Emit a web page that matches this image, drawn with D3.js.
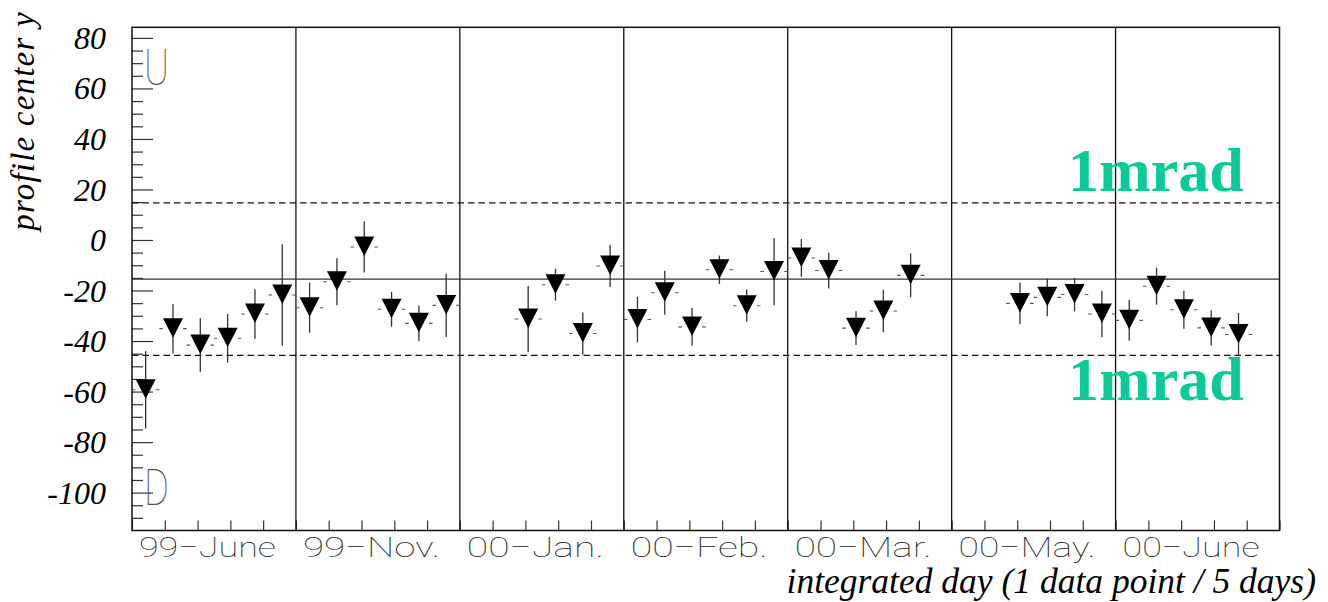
<!DOCTYPE html>
<html>
<head>
<meta charset="utf-8">
<script src="https://cdn.jsdelivr.net/npm/d3@7"></script>
<style>
  html, body { margin: 0; padding: 0; background: #fff; }
  svg { display: block; }
</style>
</head>
<body>
<svg id="chart" width="1328" height="602"></svg>
<script>
// Period labels: one group per period, six 5-day bins per group
const periods = ["99\u2212June", "99\u2212Nov.", "00\u2212Jan.", "00\u2212Feb.", "00\u2212Mar.", "00\u2212May.", "00\u2212June"];
const binsPerPeriod = 6;

// Bin index (0..41) of each measured point
const pointBin = [0, 1, 2, 3, 4, 5,
                  6, 7, 8, 9, 10, 11,
                  14, 15, 16, 17,
                  18, 19, 20, 21, 22, 23,
                  24, 25, 26, 27, 28,
                  32, 33, 34, 35,
                  36, 37, 38, 39, 40];
// Profile centre y of each point
const profileY = [-59.3, -35.1, -41.6, -38.9, -29.3, -21.8,
                  -26.8, -16.5, -2.8, -27.4, -33.0, -25.9,
                  -31.3, -17.7, -37.0, -10.3,
                  -31.5, -20.9, -34.4, -11.8, -26.0, -12.5,
                  -7.1, -12.1, -34.9, -28.1, -14.0,
                  -25.1, -22.7, -21.6, -29.3,
                  -31.8, -18.3, -27.6, -34.8, -37.4];
// Error on each point
const profileErr = [15.3, 9.8, 10.6, 9.6, 9.8, 20.1,
                    9.9, 9.3, 10.1, 6.9, 7.1, 12.5,
                    13.1, 6.3, 8.3, 8.3,
                    9.0, 8.7, 7.5, 5.6, 6.4, 13.3,
                    7.5, 7.1, 6.7, 8.4, 8.7,
                    8.3, 7.5, 6.6, 9.2,
                    8.1, 7.3, 7.5, 7.0, 8.5];

// Reference centre and the +-1 mrad band around it
const nominalCenter = -15.5;
const mradBand = 30.2;

// Axis ticks
const yMajorTicks = [-100, -80, -60, -40, -20, 0, 20, 40, 60, 80];
const yMinorTicks = d3.range(-110, 81, 5).filter(v => v % 20 !== 0);
const xTickStep = 1.2;

const svg = d3.select("#chart");
const plotLeft = 132, plotRight = 1279.5, plotTop = 27.3, plotBottom = 530.5;

const nBins = periods.length * binsPerPeriod;
const x = d3.scaleLinear().domain([0, nBins]).range([plotLeft, plotRight]);
const y = d3.scaleLinear().domain([-115, 84.2]).range([plotBottom, plotTop]);

const serif = "'Liberation Serif', 'Times New Roman', serif";
const thin = "Roboto, 'Open Sans', sans-serif";

// Y axis: inward minor and major ticks
svg.append("g")
  .attr("transform", `translate(${plotLeft},0)`)
  .call(d3.axisLeft(y).tickValues(yMinorTicks).tickSize(-11).tickFormat(""))
  .call(g => g.select(".domain").remove())
  .call(g => g.selectAll("line").attr("stroke", "#333").attr("stroke-width", 1.2));

svg.append("g")
  .attr("transform", `translate(${plotLeft},0)`)
  .call(d3.axisLeft(y).tickValues(yMajorTicks).tickSize(-21).tickPadding(26).tickFormat(d => String(d)))
  .call(g => g.select(".domain").remove())
  .call(g => g.selectAll("line").attr("stroke", "#333").attr("stroke-width", 1.2))
  .call(g => g.selectAll("text")
    .attr("font-family", serif).attr("font-style", "italic")
    .attr("font-size", 32).attr("fill", "#000").attr("dy", "0.33em"));

// X axis: inward ticks
svg.append("g")
  .attr("transform", `translate(0,${plotBottom})`)
  .call(d3.axisBottom(x).tickValues(d3.range(0, nBins + 0.01, xTickStep)).tickSize(-10).tickFormat(""))
  .call(g => g.select(".domain").remove())
  .call(g => g.selectAll("line").attr("stroke", "#333").attr("stroke-width", 1.2));

// Period separators
svg.append("g").selectAll("line")
  .data(d3.range(1, periods.length))
  .join("line")
  .attr("x1", d => x(d * binsPerPeriod)).attr("x2", d => x(d * binsPerPeriod))
  .attr("y1", plotTop).attr("y2", plotBottom)
  .attr("stroke", "#111").attr("stroke-width", 1.3);

// Nominal centre and 1 mrad band
svg.append("line")
  .attr("x1", plotLeft).attr("x2", plotRight)
  .attr("y1", y(nominalCenter)).attr("y2", y(nominalCenter))
  .attr("stroke", "#333").attr("stroke-width", 1.3);
svg.append("g").selectAll("line")
  .data([nominalCenter + mradBand, nominalCenter - mradBand])
  .join("line")
  .attr("x1", plotLeft).attr("x2", plotRight)
  .attr("y1", d => y(d)).attr("y2", d => y(d))
  .attr("stroke", "#111").attr("stroke-width", 1.2)
  .attr("stroke-dasharray", "6.5,4");

// Frame
svg.append("rect")
  .attr("x", plotLeft).attr("y", plotTop)
  .attr("width", plotRight - plotLeft).attr("height", plotBottom - plotTop)
  .attr("fill", "none").attr("stroke", "#111").attr("stroke-width", 1.5);

// U / D markers
svg.append("text").text("U")
  .attr("x", plotLeft + 12).attr("y", y(61.3))
  .attr("font-family", thin).attr("font-weight", 100).attr("font-size", 50)
  .attr("fill", "#555").attr("textLength", 25).attr("lengthAdjust", "spacingAndGlyphs");
svg.append("text").text("D")
  .attr("x", plotLeft + 12).attr("y", y(-104.8))
  .attr("font-family", thin).attr("font-weight", 100).attr("font-size", 50)
  .attr("fill", "#555").attr("textLength", 25).attr("lengthAdjust", "spacingAndGlyphs");

// 1 mrad labels
svg.append("g").selectAll("text")
  .data([nominalCenter + mradBand, nominalCenter - mradBand])
  .join("text")
  .text("1mrad")
  .attr("x", 1068)
  .attr("y", (d, i) => i === 0 ? y(d) - 12 : y(d) + 45)
  .attr("font-family", serif).attr("font-weight", "bold")
  .attr("font-size", 62).attr("fill", "#0ACB97");

// Data points
const points = pointBin.map((b, i) => ({ bin: b, v: profileY[i], e: profileErr[i] }));
const pg = svg.append("g");

// x error bars (bin width), visible only beside the marker
pg.selectAll("line.xerr")
  .data(points).join("line").attr("class", "xerr")
  .attr("x1", d => x(d.bin)).attr("x2", d => x(d.bin + 1))
  .attr("y1", d => y(d.v)).attr("y2", d => y(d.v))
  .attr("stroke", "#555").attr("stroke-width", 1.1)
  .attr("stroke-dasharray", d => {
    const w = x(d.bin + 1) - x(d.bin);
    return `3.5,${w - 7},3.5`;
  });

// y error bars
pg.selectAll("line.yerr")
  .data(points).join("line").attr("class", "yerr")
  .attr("x1", d => x(d.bin + 0.5)).attr("x2", d => x(d.bin + 0.5))
  .attr("y1", d => y(d.v + d.e)).attr("y2", d => y(d.v - d.e))
  .attr("stroke", "#333").attr("stroke-width", 1.3);

// Filled down-pointing triangle markers
pg.selectAll("path.mk")
  .data(points).join("path").attr("class", "mk")
  .attr("transform", d => `translate(${x(d.bin + 0.5)},${y(d.v)})`)
  .attr("d", "M-10,-10.5L10,-10.5L0,9Z")
  .attr("fill", "#000");

// Period labels
svg.append("g").selectAll("text")
  .data(periods)
  .join("text")
  .text(d => d)
  .attr("x", (d, i) => x(i * binsPerPeriod + binsPerPeriod / 2) - 6.5)
  .attr("y", 557)
  .attr("text-anchor", "middle")
  .attr("font-family", thin).attr("font-weight", 100)
  .attr("font-size", 28).attr("fill", "#222")
  .attr("textLength", 137).attr("lengthAdjust", "spacingAndGlyphs");

// Axis titles
svg.append("text")
  .text("integrated day (1 data point / 5 days)")
  .attr("x", 1316).attr("y", 593)
  .attr("text-anchor", "end")
  .attr("font-family", serif).attr("font-style", "italic")
  .attr("font-size", 35.5).attr("fill", "#000");

svg.append("text")
  .text("profile center y")
  .attr("transform", "translate(34,121) rotate(-90)")
  .attr("text-anchor", "middle")
  .attr("font-family", serif).attr("font-style", "italic")
  .attr("font-size", 33).attr("fill", "#000")
  .attr("letter-spacing", 1.2);
</script>
</body>
</html>
